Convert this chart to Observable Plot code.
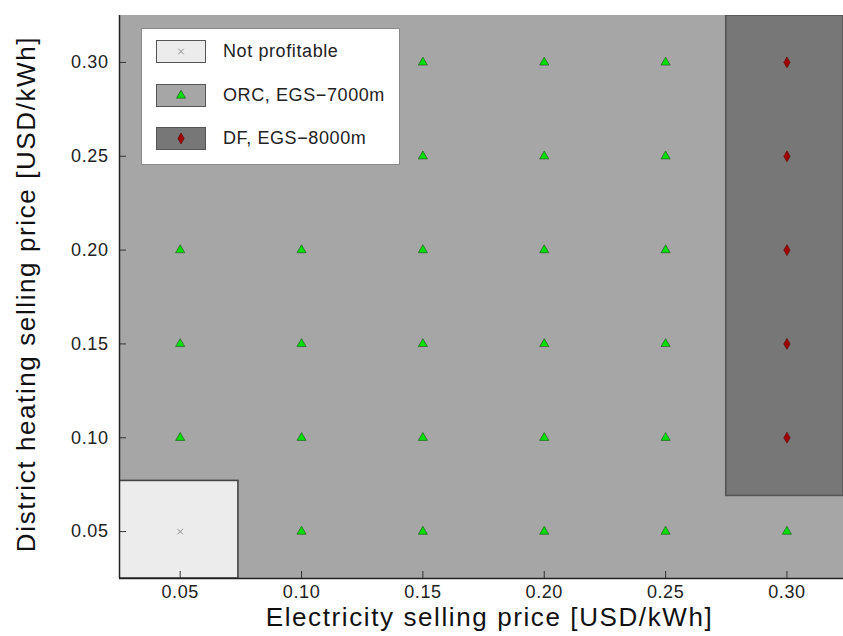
<!DOCTYPE html>
<html><head><meta charset="utf-8">
<script src="https://cdn.jsdelivr.net/npm/d3@7"></script>
<script src="https://cdn.jsdelivr.net/npm/@observablehq/plot@0.6"></script>
<style>
body{margin:0;background:#fff;overflow:hidden}
#wrap{position:relative;width:843px;height:636px}
#legend{position:absolute;left:141px;top:28px;width:259px;height:137px;box-sizing:border-box;background:#fff;border:1px solid #8a8a8a;font-family:"Liberation Sans",Arial,sans-serif;font-size:18px;letter-spacing:0.6px;color:#222}
.sw{position:absolute;left:14px;width:50px;height:23px;border:1px solid #555;box-sizing:border-box}
.sw svg{position:absolute;left:0;top:0}
.lt{position:absolute;left:81px;line-height:23px;white-space:nowrap}
g[aria-label="x-axis tick label"], g[aria-label="y-axis tick label"]{letter-spacing:0.6px}
g[aria-label="text"]{letter-spacing:1.6px}
</style></head>
<body>
<div id="wrap"><div id="chart"></div><div id="legend"></div></div>
<script>
// ---- data ----
const xTicks = [0.05, 0.10, 0.15, 0.20, 0.25, 0.30];
const yTicks = [0.05, 0.10, 0.15, 0.20, 0.25, 0.30];
const xLabel = "Electricity selling price [USD/kWh]";
const yLabel = "District heating selling price [USD/kWh]";
const xDomain = [0.025, 0.3233];
const yDomain = [0.025, 0.325];

const legendNames = ["Not profitable", "ORC, EGS\u22127000m", "DF, EGS\u22128000m"];

// regions (option index into legendNames)
const regionOption = [1, 0, 2];
const regionX1 = [0.025, 0.025, 0.275];
const regionX2 = [0.3233, 0.074, 0.3233];
const regionY1 = [0.025, 0.025, 0.069];
const regionY2 = [0.325, 0.077, 0.325];

// grid points
const pointX = [
  0.05, 0.05, 0.05, 0.05, 0.05, 0.05,
  0.10, 0.10, 0.10, 0.10, 0.10, 0.10,
  0.15, 0.15, 0.15, 0.15, 0.15, 0.15,
  0.20, 0.20, 0.20, 0.20, 0.20, 0.20,
  0.25, 0.25, 0.25, 0.25, 0.25, 0.25,
  0.30, 0.30, 0.30, 0.30, 0.30, 0.30];
const pointY = [
  0.05, 0.10, 0.15, 0.20, 0.25, 0.30,
  0.05, 0.10, 0.15, 0.20, 0.25, 0.30,
  0.05, 0.10, 0.15, 0.20, 0.25, 0.30,
  0.05, 0.10, 0.15, 0.20, 0.25, 0.30,
  0.05, 0.10, 0.15, 0.20, 0.25, 0.30,
  0.05, 0.10, 0.15, 0.20, 0.25, 0.30];
const pointOption = [
  0, 1, 1, 1, 1, 1,
  1, 1, 1, 1, 1, 1,
  1, 1, 1, 1, 1, 1,
  1, 1, 1, 1, 1, 1,
  1, 1, 1, 1, 1, 1,
  1, 2, 2, 2, 2, 2];

// ---- styles ----
const regionFill = ["#ececec", "#a6a6a6", "#777777"];
const regionStroke = ["#444", "none", "#555"];
const symStyle = [
  {symbol: "times", r: 2.6, fill: "none", stroke: "#8a8a8a", strokeWidth: 1},
  {symbol: "triangle", r: 3.4, fill: "#00e000", stroke: "#2a6a2a", strokeWidth: 0.8},
  {symbol: "diamond", r: 3.3, fill: "#a00000", stroke: "#6a1010", strokeWidth: 0.8}
];

const regions = regionOption.map((o, i) => ({o, x1: regionX1[i], x2: regionX2[i], y1: regionY1[i], y2: regionY2[i]}));
const points = pointX.map((x, i) => ({x, y: pointY[i], o: pointOption[i]}));
const fmt = d3.format(".2f");
const plotW = 843 - 119, plotH = 636 - 15 - 58;

const chart = Plot.plot({
  width: 843, height: 636,
  marginLeft: 119, marginRight: 0, marginTop: 15, marginBottom: 58,
  style: {fontFamily: "Liberation Sans, Arial, sans-serif", fontSize: "18px", color: "#222", background: "#fff", overflow: "visible"},
  x: {domain: xDomain},
  y: {domain: yDomain},
  marks: [
    Plot.rect(regions, {x1: "x1", x2: "x2", y1: "y1", y2: "y2", fill: d => regionFill[d.o], stroke: d => regionStroke[d.o], strokeWidth: 1.6, clip: true}),
    ...symStyle.map((s, k) => Plot.dot(points.filter(p => p.o === k), {x: "x", y: "y", ...s})),
    Plot.tickX(xTicks, {x: d => d, stroke: "#333", insetTop: plotH - 7}),
    Plot.tickY(yTicks, {y: d => d, stroke: "#333", insetRight: plotW - 7}),
    Plot.ruleX([xDomain[0]], {stroke: "#222", strokeWidth: 1.5}),
    Plot.ruleY([yDomain[0]], {stroke: "#222", strokeWidth: 1.5}),
    Plot.axisX({ticks: xTicks, tickFormat: fmt, tickSize: 0, tickPadding: 7, label: null, fill: "#222"}),
    Plot.axisY({ticks: yTicks, tickFormat: fmt, tickSize: 0, tickPadding: 11, label: null, fill: "#222"}),
    Plot.text([xLabel], {text: d => d, frameAnchor: "bottom", textAnchor: "middle", lineAnchor: "middle", dy: 39, dx: 8, fontSize: 26, fill: "#111"}),
    Plot.text([yLabel], {text: d => d, frameAnchor: "left", textAnchor: "middle", lineAnchor: "middle", dx: -93, dy: -3, rotate: -90, fontSize: 26, fill: "#111"})
  ]
});
document.getElementById("chart").append(chart);

// ---- legend ----
const legend = document.getElementById("legend");
const rowTops = [11, 55, 98];
const symMap = {times: d3.symbolTimes, triangle: d3.symbolTriangle, diamond: d3.symbolDiamond};
legendNames.forEach((name, k) => {
  const sw = document.createElement("div");
  sw.className = "sw";
  sw.style.top = rowTops[k] + "px";
  sw.style.background = regionFill[k];
  const s = symStyle[k];
  const path = d3.symbol(symMap[s.symbol], s.r * s.r * Math.PI)();
  sw.innerHTML = `<svg width="48" height="21"><path transform="translate(24,10.5)" d="${path}" fill="${s.fill}" stroke="${s.stroke}" stroke-width="${s.strokeWidth}"/></svg>`;
  legend.append(sw);
  const t = document.createElement("div");
  t.className = "lt";
  t.style.top = rowTops[k] + "px";
  t.textContent = name;
  legend.append(t);
});
</script>
</body></html>
